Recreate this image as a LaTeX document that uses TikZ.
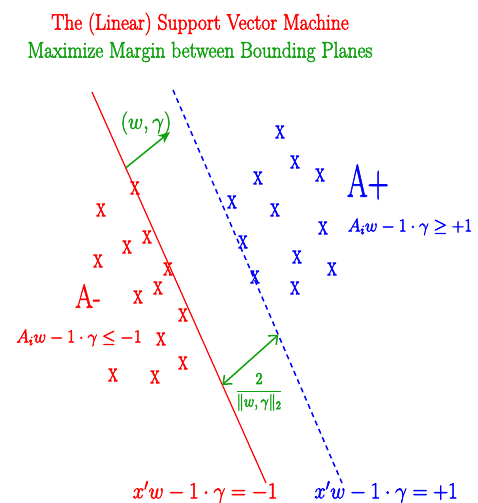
\documentclass[tikz,border=0pt]{standalone}
\usepackage{amsmath,amssymb}
\usepackage{graphicx}
\usetikzlibrary{arrows.meta,positioning,calc}
\definecolor{cneg}{HTML}{FF0000}
\definecolor{cpos}{HTML}{0000FF}
\definecolor{cmrg}{HTML}{10A010}
% stretch text vertically, as the reference does
\newcommand{\tall}[2][1.5]{\scalebox{1}[#1]{#2}}
% fill + stroke glyphs for a heavier look
\newcommand{\heavy}[1]{\special{pdf:literal direct 2 Tr 0.5 w}#1\special{pdf:literal direct 0 Tr}}
\tikzset{
  ttl/.style ={font=\fontsize{19.5}{20}\selectfont,inner sep=0pt},
  ptx/.style ={font=\fontsize{13}{13}\selectfont,inner sep=0pt},
  eqn/.style ={font=\fontsize{18.8}{19}\selectfont,inner sep=0pt},
  beq/.style ={font=\fontsize{22}{22}\selectfont,inner sep=0pt},
  pln/.style ={line width=1.2pt},
  a/.style   ={-{Stealth[length=12pt,width=10pt]},line width=1.5pt,cmrg},
  ab/.style  ={{Straight Barb[length=7pt,width=12pt]}-{Straight Barb[length=7pt,width=12pt]},line width=1.5pt,cmrg},
}
\begin{document}
\begin{tikzpicture}[x=1pt,y=-1pt]
\useasboundingbox (0,0) rectangle (477,503);
% ===== titles =====
\node[ttl,text=cneg] (t1) at (200,24) {\tall[1.15]{\heavy{The (Linear) Support Vector Machine}}};
\node[ttl,text=cmrg] (t2) at (200,52) {\tall[1.15]{\heavy{Maximize Margin between Bounding Planes}}};

% ===== bounding planes =====
\coordinate (rtop) at (92,92);  \coordinate (rbot) at (266,483);
\coordinate (btop) at (173,90); \coordinate (bbot) at (342,483);
\draw[pln,cneg] (rtop) -- (rbot);
\draw[pln,cpos,line width=1.5pt,dash pattern=on 5pt off 4pt] (btop) -- (bbot);

% ===== points =====
\foreach \x/\y [count=\i] in {135/188,101/210,147/237,127/247,98/261,168/269,158/288,138/297,183/315,161/339,183/363,113/375,155/377}
  \node[ptx,text=cneg] (r\i) at (\x,\y) {\tall[1.4]{\heavy{X}}};
\foreach \x/\y [count=\i] in {280/132,295/162,258/178,320/175,232/202,275/210,323/228,243/242,297/257,332/269,255/277,295/288}
  \node[ptx,text=cpos] (b\i) at (\x,\y) {\tall[1.4]{\heavy{X}}};

% ===== class labels =====
\node[ptx,font=\fontsize{29.5}{30}\selectfont,text=cpos] (ap) at (368,182) {\tall[1.55]{\heavy{A+}}};
\node[eqn,text=cpos] (apq) at (410,227) {\tall[1.05]{\heavy{$A_iw-1\cdot\gamma\geq+1$}}};
\node[ptx,font=\fontsize{25.5}{26}\selectfont,text=cneg] (am) at (88,296) {\tall[1.3]{\heavy{A-}}};
\node[eqn,text=cneg] (amq) at (79,338) {\tall[1.05]{\heavy{$A_iw-1\cdot\gamma\leq-1$}}};

% ===== normal + margin =====
\coordinate (n0) at ($(rtop)!0.194!(rbot)$);
\coordinate (n1) at (170,132);
\draw[a] (n0) -- (n1);
\node[beq,text=cmrg] (wg) at (146,123) {\tall[1.1]{\heavy{$(w,\gamma)$}}};
\coordinate (m0) at ($(rtop)!0.749!(rbot)$);
\coordinate (m1) at ($(btop)!0.623!(bbot)$);
\draw[ab] (m0) -- (m1);
\node[ptx,font=\fontsize{14}{14}\selectfont,text=cmrg] (mg) at (259,392) {\tall[1.15]{\heavy{$\dfrac{2}{\|w,\gamma\|_2}$}}};

% ===== plane equations =====
\node[beq,text=cneg] (rq) at (205,492) {\tall[1.1]{\heavy{$x'w-1\cdot\gamma=-1$}}};
\node[beq,text=cpos] (bq) at (386,492) {\tall[1.1]{\heavy{$x'w-1\cdot\gamma=+1$}}};
\end{tikzpicture}
\end{document}
